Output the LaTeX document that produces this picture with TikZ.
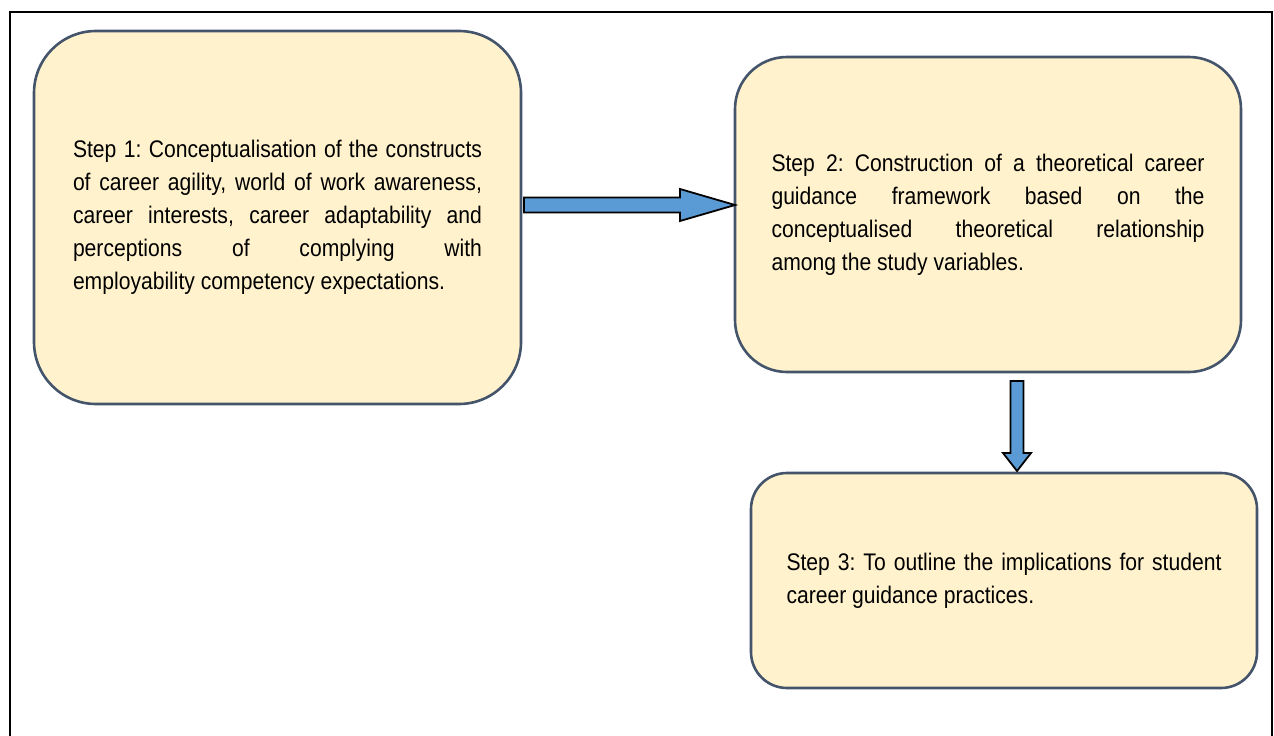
\documentclass[tikz,border=0pt]{standalone}
\usepackage{fontspec}
\setmainfont{Liberation Sans}[FakeStretch=0.88]
\usetikzlibrary{calc}
\definecolor{boxfill}{HTML}{FFF2CC}
\definecolor{boxline}{HTML}{44546A}
\definecolor{arrowfill}{HTML}{5B9BD5}
\tikzset{
  stepbox/.style={draw=boxline, fill=boxfill, line width=2.6pt,
    align=justify, inner sep=0pt, outer sep=0pt,
    font=\fontsize{24}{33}\selectfont\frenchspacing},
  blockarrow/.style={draw=black, fill=arrowfill, line width=1.8pt, line join=miter},
  frame/.style={draw=black, line width=2.6pt}
}
\begin{document}
\begin{tikzpicture}[x=1pt, y=-1pt]
\useasboundingbox (0,0) rectangle (1274,736);
% outer frame (open at the bottom)
\draw[frame] (10,736) -- (10,12) -- (1272,12) -- (1272,736);

% the three steps
\node[stepbox, rounded corners=62pt, minimum width=487pt, minimum height=373pt, text width=409pt]
  (s1) at (277.5,217.5)
  {Step 1: Conceptualisation of the constructs\linebreak
   of career agility, world of work awareness,\linebreak
   career interests, career adaptability and\linebreak
   perceptions of complying with\linebreak
   employability competency expectations.};
\node[stepbox, rounded corners=52pt, minimum width=506pt, minimum height=315pt, text width=433pt]
  (s2) at (988,214.5)
  {Step 2: Construction of a theoretical career\linebreak
   guidance framework based on the\linebreak
   conceptualised theoretical relationship\linebreak
   among the study variables.};
\node[stepbox, rounded corners=36pt, minimum width=506pt, minimum height=215pt, text width=435pt]
  (s3) at (1004,580.5)
  {Step 3: To outline the implications for student\linebreak
   career guidance practices.};

% block arrow from step 1 to step 2
\coordinate (a1s) at ($(s1.east)+(3,-12.5)$);
\coordinate (a1e) at (s2.west |- a1s);
\draw[blockarrow]
  ($(a1s)+(0,-7.5)$) -- ($(a1e)+(-55,-7.5)$) -- ($(a1e)+(-55,-16)$) -- (a1e)
  -- ($(a1e)+(-55,16)$) -- ($(a1e)+(-55,7.5)$) -- ($(a1s)+(0,7.5)$) -- cycle;

% block arrow from step 2 to step 3
\coordinate (a2s) at ($(s2.south)+(29,9)$);
\coordinate (a2e) at ($(a2s |- s3.north)+(0,-2)$);
\draw[blockarrow]
  ($(a2s)+(-6.5,0)$) -- ($(a2e)+(-6.5,-18)$) -- ($(a2e)+(-14,-18)$) -- (a2e)
  -- ($(a2e)+(14,-18)$) -- ($(a2e)+(6.5,-18)$) -- ($(a2s)+(6.5,0)$) -- cycle;
\end{tikzpicture}
\end{document}
